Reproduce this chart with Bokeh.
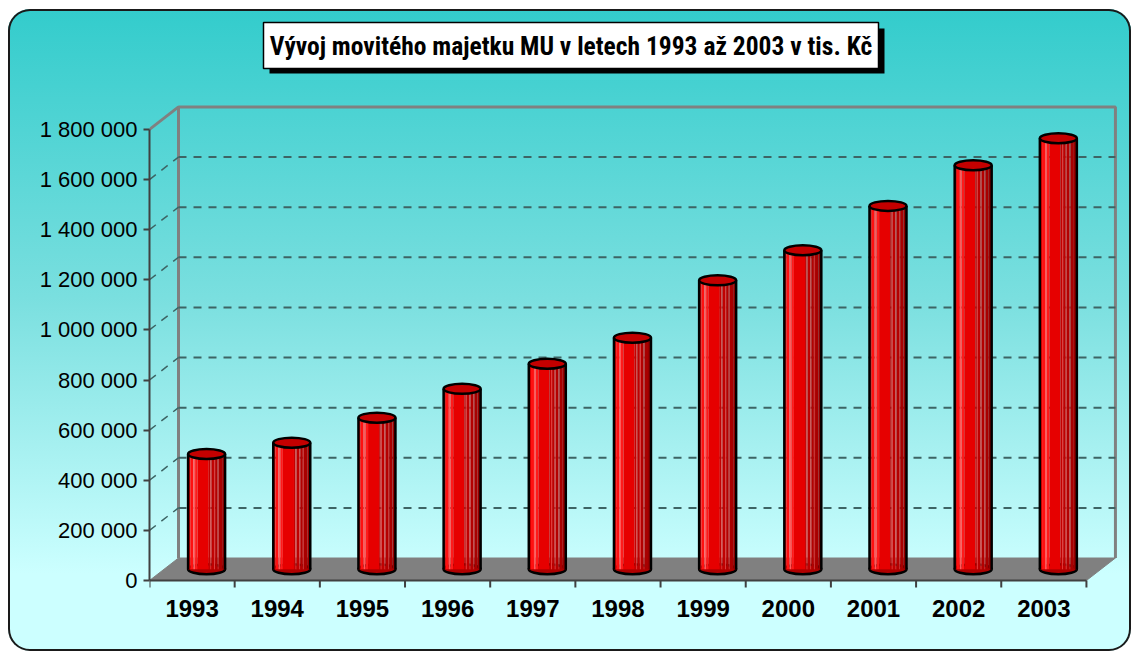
import numpy as np
from bokeh.plotting import figure
from bokeh.models import FixedTicker, Range1d
from bokeh.core.properties import value
from bokeh.embed import file_html
from bokeh.resources import INLINE

# ---------------- data ----------------
years = ["1993", "1994", "1995", "1996", "1997", "1998",
         "1999", "2000", "2001", "2002", "2003"]
values = [460000, 505000, 605000, 720000, 820000, 924000,
          1153000, 1273000, 1450000, 1612000, 1720000]
y_ticks = [0, 200000, 400000, 600000, 800000, 1000000,
           1200000, 1400000, 1600000, 1800000]
y_tick_labels = ["0", "200 000", "400 000", "600 000", "800 000", "1 000 000",
                 "1 200 000", "1 400 000", "1 600 000", "1 800 000"]
title_text = "Vývoj movitého majetku MU v letech 1993 až 2003 v tis. Kč"

# ---------------- layout ----------------
OX, OY = 8, 9               # page offset of the figure
W, H = 1123, 642
ML, MR, MT, MB = 141, 11, 7, 61
fw = W - ML - MR
fh = H - MT - MB
n = len(years)
x_end = 11.4
ppx = fw / x_end            # px per category unit
ppy = 250.6 / 1e6           # px per value unit
zero_off = 10               # px between frame bottom and value 0
y_start = -zero_off / ppy
y_end = y_start + fh / ppy

PX0 = OX + ML                    # page x of front axis
PY0 = OY + MT + fh - zero_off    # page y of value 0


def X(px):
    return (px - PX0) / ppx


def Y(py):
    return (PY0 - py) / ppy


dx = 29 / ppx               # depth offset
dy = 22.5 / ppy
ymax = y_ticks[-1]

p = figure(width=W, height=H, output_backend="svg", toolbar_location=None,
           x_range=Range1d(0, x_end), y_range=Range1d(y_start, y_end),
           min_border_left=ML, min_border_right=MR,
           min_border_top=MT, min_border_bottom=MB)
p.background_fill_alpha = 0
p.border_fill_alpha = 0
p.outline_line_color = None
p.grid.visible = False
p.styles = {
    "margin-left": f"{OX}px",
    "margin-top": f"{OY}px",
    "background": "linear-gradient(to bottom, #33CCCC 0%, #7ADFDF 45%, #CCFFFF 88%, #CCFFFF 100%)",
    "border-radius": "22px",
    "box-shadow": "inset 0 0 0 2px #1a1a1a",
}

# y axis
ya = p.yaxis[0]
ya.ticker = FixedTicker(ticks=y_ticks)
ya.major_label_overrides = {t: s for t, s in zip(y_ticks, y_tick_labels)}
ya.bounds = (0, ymax)
ya.axis_line_color = "#404040"
ya.axis_line_width = 2
ya.major_tick_line_color = "#404040"
ya.major_tick_line_width = 2
ya.major_tick_in = 0
ya.major_tick_out = 6
ya.minor_tick_line_color = None
ya.major_label_text_font = "Liberation Sans"
ya.major_label_text_font_size = "22px"
ya.major_label_text_color = "black"
ya.major_label_standoff = 6

# x axis (labels only)
xa = p.xaxis[0]
centers = [i + 0.5 for i in range(n)]
xa.ticker = FixedTicker(ticks=centers)
xa.major_label_overrides = {c: y for c, y in zip(centers, years)}
xa.axis_line_color = None
xa.major_tick_line_color = None
xa.minor_tick_line_color = None
xa.major_label_text_font = "Liberation Sans"
xa.major_label_text_font_style = "bold"
xa.major_label_text_font_size = "24px"
xa.major_label_text_color = "black"
xa.major_label_standoff = 3

# floor
p.patch([0, n, n + dx, dx], [0, 0, dy, dy], fill_color="#808080",
        line_color="#808080", line_width=1)
# back wall frame
p.line([dx, dx, n + dx, n + dx], [dy, ymax + dy, ymax + dy, dy],
       line_color="#808080", line_width=3)
p.line([0, dx], [ymax, ymax + dy], line_color="#808080", line_width=3)
# gridlines on back wall + side diagonals
gvals = y_ticks[1:-1]
p.multi_line([[dx, n + dx] for _ in gvals], [[g + dy, g + dy] for g in gvals],
             line_color="#3d6464", line_width=2, line_dash="8 7")
p.multi_line([[0, dx] for _ in gvals], [[g, g + dy] for g in gvals],
             line_color="#3d6464", line_width=1.5, line_dash="8 7")
# front floor edge and category boundary ticks
p.line([0, n], [0, 0], line_color="#404040", line_width=2)
p.segment(x0=list(range(n + 1)), y0=[0] * (n + 1), x1=list(range(n + 1)),
          y1=[-7 / ppy] * (n + 1), line_color="#404040", line_width=2)

# cylinders
cw = 37 / ppx
eh = 10 / ppy
cx = np.array(centers) + dx / 2
yb = dy / 2
tops = np.array(values) + dy / 2
p.ellipse(x=cx, y=[yb] * n, width=cw, height=eh, fill_color="#B00000",
          line_color="black", line_width=2.5)
stripes = [(0.00, 0.06, "#D80000"), (0.06, 0.14, "#FF1010"), (0.14, 0.19, "#FF5A5A"),
           (0.19, 0.26, "#FF1A1A"), (0.26, 0.56, "#E60000"), (0.56, 0.60, "#C40000"),
           (0.60, 0.63, "#E23A3A"), (0.63, 0.70, "#C00000"), (0.70, 0.73, "#D84040"),
           (0.73, 0.80, "#B40000"), (0.80, 0.83, "#C83434"), (0.83, 0.92, "#A80000"),
           (0.92, 1.00, "#980000")]
left = cx - cw / 2
for a, b, col in stripes:
    p.quad(left=left + a * cw, right=left + b * cw, bottom=[yb] * n, top=tops,
           fill_color=col, line_color=None)
p.segment(x0=left, y0=[yb] * n, x1=left, y1=tops, line_color="black", line_width=2.5)
p.segment(x0=left + cw, y0=[yb] * n, x1=left + cw, y1=tops, line_color="black", line_width=2.5)
p.ellipse(x=cx, y=tops, width=cw, height=eh, fill_color="#C40000",
          line_color="black", line_width=2.5)

# title box with shadow
p.quad(left=[X(269)], right=[X(884)], top=[Y(28)], bottom=[Y(73)],
       fill_color="black", line_color=None)
p.quad(left=[X(263)], right=[X(878)], top=[Y(22)], bottom=[Y(68)],
       fill_color="white", line_color="black", line_width=1.5)
p.text(x=[X(570.5)], y=[Y(45.5)], text=[title_text],
       text_font=value("Liberation Sans Narrow, Arial Narrow, Roboto Condensed, Roboto, sans-serif"),
       text_font_style="bold", text_font_size="25.5px", text_color="black",
       text_align="center", text_baseline="middle")

open("out.html", "w").write(file_html(p, INLINE))
